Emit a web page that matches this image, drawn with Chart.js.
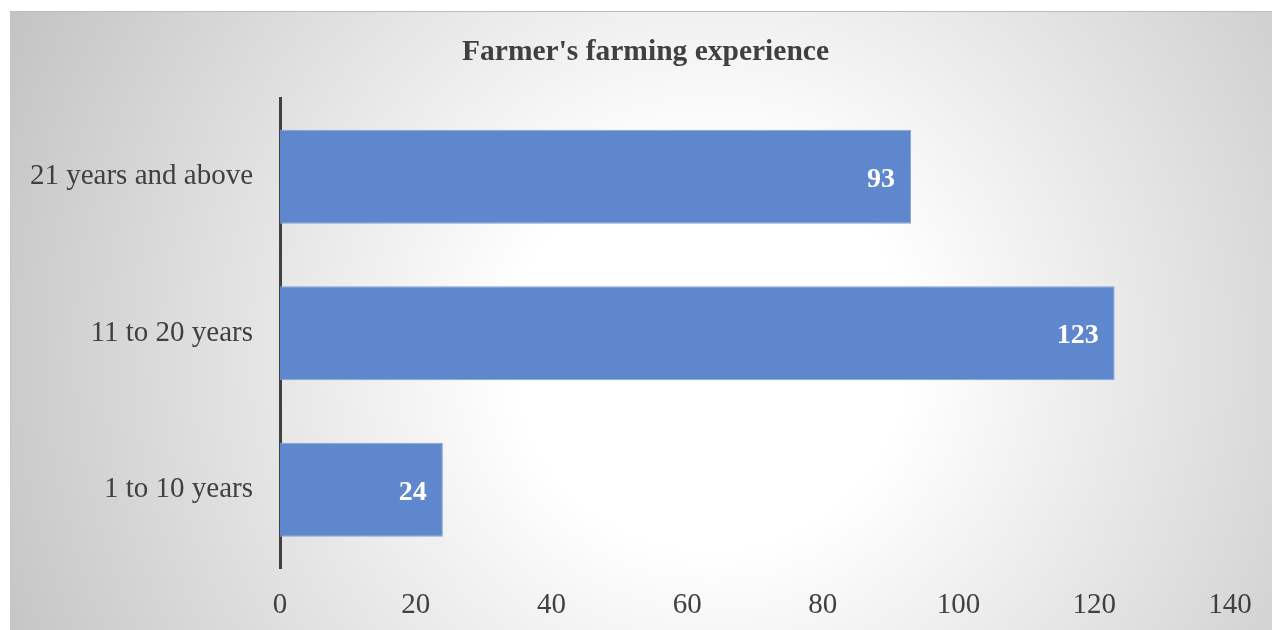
<!DOCTYPE html>
<html lang="en">
<head>
  <meta charset="UTF-8" />
  <title>Farmer's farming experience</title>
  <script src="https://cdn.jsdelivr.net/npm/chart.js"></script>
  <style>
    html, body {
      margin: 0;
      background: #ffffff;
    }
    .marco {
      position: absolute;
      left: 10px;
      top: 11px;
      width: 1262px;
      height: 619px;
      border-top: 1px solid #bdbdbd;
      border-left: 1px solid #c6c6c6;
      box-sizing: border-box;
    }
  </style>
</head>
<body>
  <div class="marco">
    <canvas id="graficoExperiencia"></canvas>
  </div>

  <script>
    const categorias = ['21 years and above', '11 to 20 years', '1 to 10 years'];
    const agricultores = [93, 123, 24];
    const marcasX = [0, 20, 40, 60, 80, 100, 120, 140];

    // fondo degradado como en la figura original
    const fondo = {
      id: 'fondo',
      beforeDraw(chart) {
        const c = chart.ctx;
        const g = c.createRadialGradient(700, 340, 0, 700, 340, 790);
        g.addColorStop(0, '#ffffff');
        g.addColorStop(0.25, '#ffffff');
        g.addColorStop(1, '#c2c2c2');
        c.save();
        c.fillStyle = g;
        c.fillRect(0, 0, chart.width, chart.height);
        c.restore();
      }
    };

    // etiquetas blancas dentro de cada barra
    const etiquetas = {
      id: 'etiquetas',
      afterDatasetsDraw(chart) {
        const c = chart.ctx;
        const meta = chart.getDatasetMeta(0);
        c.save();
        c.font = 'bold 28px "Liberation Serif"';
        c.fillStyle = '#ffffff';
        c.textAlign = 'right';
        c.textBaseline = 'middle';
        meta.data.forEach((barra, i) => {
          c.fillText(String(agricultores[i]), barra.x - 16, barra.y + 3);
        });
        c.restore();
      }
    };

    const ctx = document.getElementById('graficoExperiencia').getContext('2d');
    new Chart(ctx, {
      type: 'bar',
      data: {
        labels: categorias,
        datasets: [{
          data: agricultores,
          backgroundColor: '#5f87cd',
          borderColor: '#86a4d9',
          borderWidth: 1,
          barPercentage: 0.6,
          categoryPercentage: 1.0
        }]
      },
      options: {
        indexAxis: 'y',
        responsive: true,
        maintainAspectRatio: false,
        animation: false,
        layout: {
          padding: { left: 8, right: 0, top: 0, bottom: 0 }
        },
        plugins: {
          legend: { display: false },
          tooltip: { enabled: false },
          title: {
            display: true,
            text: "Farmer's farming experience",
            color: '#404040',
            font: { family: 'Liberation Serif', size: 29.5, weight: 'bold' },
            padding: { top: 23, bottom: 28 }
          }
        },
        scales: {
          x: {
            min: 0,
            max: 140,
            afterBuildTicks(scale) {
              scale.ticks = marcasX.map(v => ({ value: v }));
            },
            grid: { display: false, drawTicks: false },
            border: { display: false },
            ticks: {
              color: '#404040',
              padding: 20,
              maxRotation: 0,
              font: { family: 'Liberation Serif', size: 29 }
            },
            afterFit(scale) {
              scale.height = 62;
              scale.paddingRight = 42;
            }
          },
          y: {
            grid: { display: false, drawTicks: false },
            border: { display: true, color: '#404040', width: 3 },
            ticks: {
              color: '#404040',
              padding: 27,
              font: { family: 'Liberation Serif', size: 29 }
            },
            afterFit(scale) {
              scale.width = 261;
            }
          }
        }
      },
      plugins: [fondo, etiquetas]
    });
  </script>
</body>
</html>
